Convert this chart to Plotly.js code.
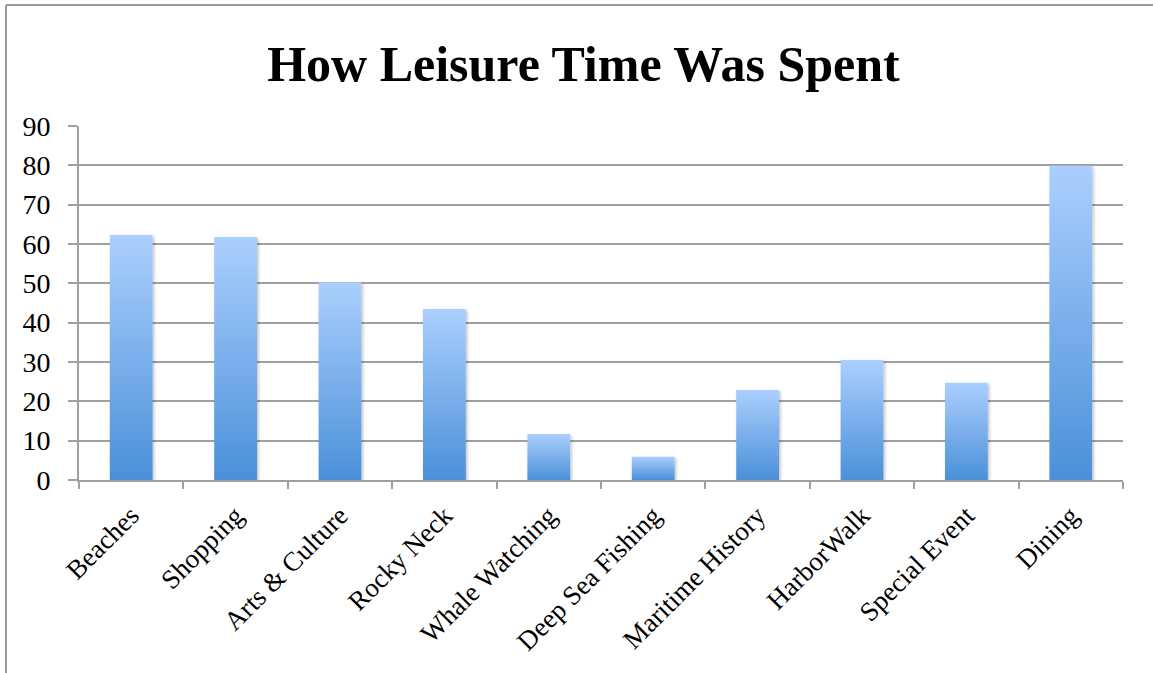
<!DOCTYPE html>
<html>
<head>
<meta charset="utf-8">
<script src="https://cdn.plot.ly/plotly-3.0.1.min.js"></script>
<style>
html,body{margin:0;padding:0;background:#fff;}
#chart{width:1153px;height:673px;}
</style>
</head>
<body>
<div id="chart"></div>
<script>
const categories = ["Beaches","Shopping","Arts & Culture","Rocky Neck","Whale Watching","Deep Sea Fishing","Maritime History","HarborWalk","Special Event","Dining"];
const values = [62.3, 61.8, 50.3, 43.5, 11.7, 5.9, 22.9, 30.5, 24.7, 79.9];
const yTicks = [0,10,20,30,40,50,60,70,80,90];
const titleText = "How Leisure Time Was Spent";

const gridColor = "#a0a0a0";
const serif = "Liberation Serif, Times New Roman, serif";

const trace = {
  type: "bar",
  x: categories,
  y: values,
  marker: {color: "#7fb0ec", line: {width: 0}},
  hoverinfo: "x+y"
};

const layout = {
  width: 1153,
  height: 673,
  margin: {l: 79, r: 30, t: 126, b: 193, pad: 0},
  paper_bgcolor: "#ffffff",
  plot_bgcolor: "#ffffff",
  showlegend: false,
  bargap: 0.59,
  title: {
    text: "<b>" + titleText + "</b>",
    font: {family: serif, size: 50, color: "#000"},
    x: 0.506, xanchor: "center", xref: "container",
    y: 0.905, yanchor: "middle", yref: "container"
  },
  xaxis: {
    type: "category",
    showgrid: false,
    showline: true, linecolor: gridColor, linewidth: 2,
    ticks: "outside", tickson: "boundaries", ticklen: 7, tickwidth: 2, tickcolor: gridColor,
    tickangle: -45,
    ticklabelstandoff: 7,
    tickfont: {family: serif, size: 27, color: "#000"},
    zeroline: false
  },
  yaxis: {
    range: [0, 90],
    tickvals: yTicks,
    ticktext: yTicks.map(String),
    showgrid: true, gridcolor: gridColor, gridwidth: 2,
    showline: true, linecolor: gridColor, linewidth: 2,
    ticks: "outside", ticklen: 9, tickwidth: 2, tickcolor: gridColor,
    ticklabelstandoff: 12,
    tickfont: {family: serif, size: 28, color: "#000"},
    zeroline: false,
    fixedrange: true
  },
  shapes: [
    {type: "line", xref: "paper", yref: "paper", x0: -0.0699, x1: 1.05, y0: 1.3418, y1: 1.3418, line: {color: "#9a9a9a", width: 2}},
    {type: "line", xref: "paper", yref: "paper", x0: -0.0699, x1: -0.0699, y0: 1.3418, y1: -0.55, line: {color: "#9a9a9a", width: 2}}
  ]
};

Plotly.newPlot("chart", [trace], layout, {displayModeBar: false, staticPlot: true}).then(function(gd){
  const ns = "http://www.w3.org/2000/svg";
  const svg = gd.querySelector("svg.main-svg");
  let defs = svg.querySelector("defs");
  if (!defs) { defs = document.createElementNS(ns, "defs"); svg.insertBefore(defs, svg.firstChild); }
  const grad = document.createElementNS(ns, "linearGradient");
  grad.setAttribute("id", "barGrad");
  grad.setAttribute("x1", "0"); grad.setAttribute("y1", "0");
  grad.setAttribute("x2", "0"); grad.setAttribute("y2", "1");
  [["0%", "#abcffe"], ["100%", "#4a90d9"]].forEach(function(s){
    const st = document.createElementNS(ns, "stop");
    st.setAttribute("offset", s[0]);
    st.setAttribute("stop-color", s[1]);
    grad.appendChild(st);
  });
  defs.appendChild(grad);
  const filt = document.createElementNS(ns, "filter");
  filt.setAttribute("id", "barShadow");
  filt.setAttribute("x", "-20%"); filt.setAttribute("y", "-5%");
  filt.setAttribute("width", "150%"); filt.setAttribute("height", "115%");
  const ds = document.createElementNS(ns, "feDropShadow");
  ds.setAttribute("dx", "1.5"); ds.setAttribute("dy", "1.5");
  ds.setAttribute("stdDeviation", "1.5");
  ds.setAttribute("flood-color", "#000"); ds.setAttribute("flood-opacity", "0.25");
  filt.appendChild(ds);
  defs.appendChild(filt);
  gd.querySelectorAll(".trace.bars .point path").forEach(function(p){
    p.style.fill = "url(#barGrad)";
    p.setAttribute("filter", "url(#barShadow)");
  });
});
</script>
</body>
</html>
